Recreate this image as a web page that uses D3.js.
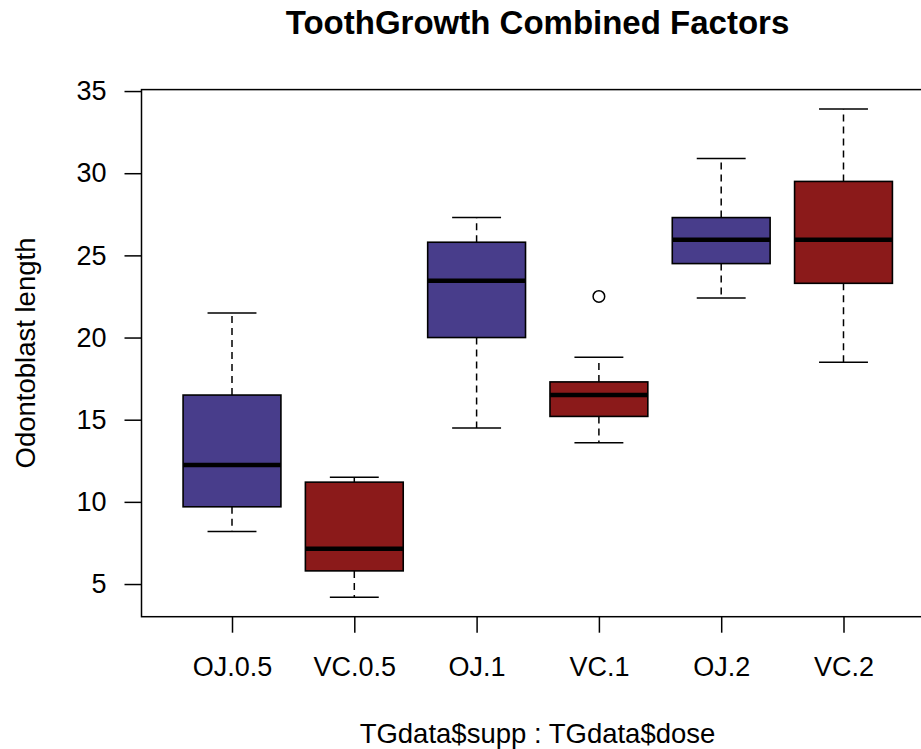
<!DOCTYPE html>
<html><head><meta charset="utf-8">
<script src="https://cdn.jsdelivr.net/npm/d3@7"></script>
<style>body{margin:0;background:#fff}svg{display:block}text{font-family:"Liberation Sans",Arial,Helvetica,sans-serif}</style>
</head><body><svg id="c" width="921" height="749"></svg>
<script>
const categories = ["OJ.0.5","VC.0.5","OJ.1","VC.1","OJ.2","VC.2"];
const whiskerLow = [8.2, 4.2, 14.5, 13.6, 22.4, 18.5];
const q1         = [9.7, 5.8, 20.0, 15.2, 24.5, 23.3];
const median     = [12.25, 7.15, 23.45, 16.5, 25.95, 25.95];
const q3         = [16.5, 11.2, 25.8, 17.3, 27.3, 29.5];
const whiskerHigh= [21.5, 11.5, 27.3, 18.8, 30.9, 33.9];
const outliers   = [[], [], [], [22.5], [], []];
const fills      = ["#483D8B","#8B1A1A","#483D8B","#8B1A1A","#483D8B","#8B1A1A"];
const yTicks = [5,10,15,20,25,30,35];

const svg = d3.select("#c");
const x = d3.scaleLinear().domain([0.26, 6.74]).range([141.5, 934]);
const y = d3.scaleLinear().domain([3.012, 35.088]).range([616.7, 89.6]);
const bw = 0.8, cw = 0.4;

const g = svg.append("g");
categories.forEach((c,i)=>{
  const p = i+1;
  const dash = "7,5";
  g.append("line").attr("x1",x(p)).attr("x2",x(p)).attr("y1",y(q3[i])).attr("y2",y(whiskerHigh[i]))
    .attr("stroke","#000").attr("stroke-width",1.5).attr("stroke-dasharray",dash);
  g.append("line").attr("x1",x(p)).attr("x2",x(p)).attr("y1",y(q1[i])).attr("y2",y(whiskerLow[i]))
    .attr("stroke","#000").attr("stroke-width",1.5).attr("stroke-dasharray",dash);
  [whiskerLow[i], whiskerHigh[i]].forEach(v=>{
    g.append("line").attr("x1",x(p-cw/2)).attr("x2",x(p+cw/2)).attr("y1",y(v)).attr("y2",y(v))
      .attr("stroke","#000").attr("stroke-width",1.5);
  });
  g.append("rect").attr("x",x(p-bw/2)).attr("width",x(p+bw/2)-x(p-bw/2))
    .attr("y",y(q3[i])).attr("height",y(q1[i])-y(q3[i]))
    .attr("fill",fills[i]).attr("stroke","#000").attr("stroke-width",1.6);
  g.append("line").attr("x1",x(p-bw/2)).attr("x2",x(p+bw/2)).attr("y1",y(median[i])).attr("y2",y(median[i]))
    .attr("stroke","#000").attr("stroke-width",4.5);
  outliers[i].forEach(v=>{
    g.append("circle").attr("cx",x(p)).attr("cy",y(v)).attr("r",5.8)
      .attr("fill","none").attr("stroke","#000").attr("stroke-width",1.5);
  });
});

// frame
svg.append("rect").attr("x",141.5).attr("y",89.6).attr("width",934-141.5).attr("height",616.7-89.6)
  .attr("fill","none").attr("stroke","#000").attr("stroke-width",1.5);

// y axis
const yAxis = svg.append("g").attr("transform","translate(141.5,0)")
  .call(d3.axisLeft(y).tickValues(yTicks).tickSize(17).tickPadding(18).tickFormat(d3.format("d")));
yAxis.select(".domain").remove();
yAxis.selectAll("line").attr("stroke","#000").attr("stroke-width",1.5);
yAxis.selectAll("text").attr("font-size","27px").attr("fill","#000").attr("font-family","Liberation Sans, Arial, sans-serif");

// x axis
const xAxis = svg.append("g").attr("transform","translate(0,616.7)")
  .call(d3.axisBottom(x).tickValues(d3.range(1,categories.length+1)).tickSize(16).tickPadding(0).tickFormat((d)=>categories[d-1]));
xAxis.select(".domain").remove();
xAxis.selectAll("line").attr("stroke","#000").attr("stroke-width",1.5);
xAxis.selectAll("text").attr("font-size","27px").attr("fill","#000").attr("font-family","Liberation Sans, Arial, sans-serif")
  .attr("dy",null).attr("y",59);

// title & labels
svg.append("text").attr("x",537.5).attr("y",34).attr("text-anchor","middle")
  .attr("font-size","33px").attr("font-weight","bold").text("ToothGrowth Combined Factors");
svg.append("text").attr("x",537.5).attr("y",742.5).attr("text-anchor","middle")
  .attr("font-size","27.5px").text("TGdata$supp : TGdata$dose");
svg.append("text").attr("transform","translate(35,353) rotate(-90)").attr("text-anchor","middle")
  .attr("font-size","27.5px").text("Odontoblast length");
</script></body></html>
